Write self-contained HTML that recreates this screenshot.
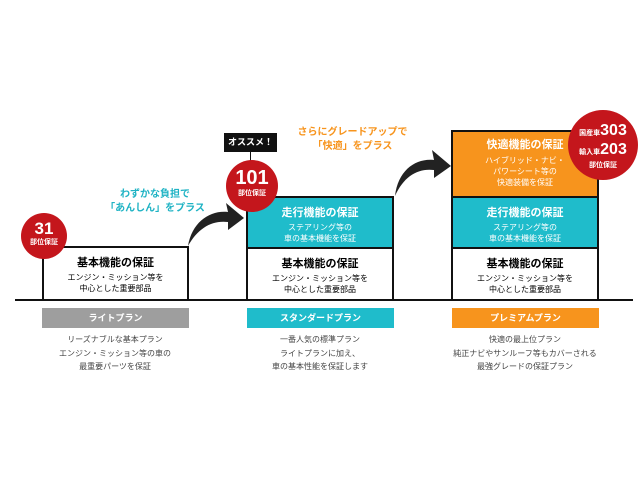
<!DOCTYPE html>
<html><head><meta charset="utf-8"><style>
body{margin:0;width:640px;height:480px;background:#fff;position:relative;overflow:hidden;font-family:"Liberation Sans","Noto Sans CJK JP",sans-serif}
.a{position:absolute;text-align:center;box-sizing:border-box}
.box{position:absolute;box-sizing:border-box;border:2px solid #111;text-align:center}
.t{font-weight:bold;font-size:11px;line-height:14px}
.s{font-size:8px;line-height:11px}
.circ{position:absolute;border-radius:50%;background:#c4161c;color:#fff;text-align:center;font-weight:bold}
.bar{position:absolute;height:20px;color:#fff;font-size:9px;font-weight:bold;line-height:20px;text-align:center}
.d{position:absolute;font-size:8px;line-height:13.5px;color:#444;text-align:center}
</style></head><body>
<div style="position:absolute;left:15px;top:299px;width:618px;height:2px;background:#111"></div>
<!-- light -->
<div class="box" style="left:42px;top:246px;width:147px;height:55px;background:#fff"><div class="t" style="margin-top:8px">基本機能の保証</div><div class="s" style="margin-top:2px">エンジン・ミッション等を<br>中心とした重要部品</div></div>
<!-- standard -->
<div class="box" style="left:246px;top:196px;width:148px;height:53px;background:#1fbccb;color:#fff"><div class="t" style="margin-top:8px">走行機能の保証</div><div class="s" style="margin-top:2px">ステアリング等の<br>車の基本機能を保証</div></div>
<div class="box" style="left:246px;top:247px;width:148px;height:54px;background:#fff"><div class="t" style="margin-top:8px">基本機能の保証</div><div class="s" style="margin-top:2px">エンジン・ミッション等を<br>中心とした重要部品</div></div>
<!-- premium -->
<div class="box" style="left:451px;top:130px;width:148px;height:68px;background:#f7941d;color:#fff"><div class="t" style="margin-top:6px">快適機能の保証</div><div class="s" style="margin-top:3px">ハイブリッド・ナビ・<br>パワーシート等の<br>快適装備を保証</div></div>
<div class="box" style="left:451px;top:196px;width:148px;height:53px;background:#1fbccb;color:#fff"><div class="t" style="margin-top:8px">走行機能の保証</div><div class="s" style="margin-top:2px">ステアリング等の<br>車の基本機能を保証</div></div>
<div class="box" style="left:451px;top:247px;width:148px;height:54px;background:#fff"><div class="t" style="margin-top:8px">基本機能の保証</div><div class="s" style="margin-top:2px">エンジン・ミッション等を<br>中心とした重要部品</div></div>
<!-- circles -->
<div class="circ" style="left:21px;top:213px;width:46px;height:46px"><div style="font-size:17px;line-height:17px;margin-top:7px">31</div><div style="font-size:7px">部位保証</div></div>
<div style="position:absolute;left:250px;top:150px;width:1px;height:12px;background:#111"></div>
<div class="a" style="left:224px;top:133px;width:53px;height:19px;background:#111;color:#fff;font-size:9px;font-weight:bold;line-height:19px">オススメ！</div>
<div class="circ" style="left:226px;top:160px;width:52px;height:52px"><div style="font-size:20px;line-height:20px;margin-top:8px">101</div><div style="font-size:7px">部位保証</div></div>
<div class="circ" style="left:568px;top:110px;width:70px;height:70px"><div style="font-size:16px;line-height:16px;margin-top:13px"><span style="font-size:7px">国産車</span>303</div><div style="font-size:16px;line-height:16px"><span style="font-size:7px">輸入車</span>203</div><div style="font-size:7px;line-height:10px">部位保証</div></div>
<!-- captions -->
<div class="a" style="left:95px;top:188px;width:120px;color:#1fb3c4;font-size:10px;font-weight:bold;line-height:14px">わずかな負担で<br>「あんしん」をプラス</div>
<div class="a" style="left:290px;top:126px;width:125px;color:#f7941d;font-size:10px;font-weight:bold;line-height:14px">さらにグレードアップで<br>「快適」をプラス</div>
<!-- arrows -->
<svg style="position:absolute;left:0;top:0" width="640" height="480">
<path d="M188 246 C192 222 210 210 228 212 L226 203 L244 218 L228 230 L228 222 C212 220 198 228 188 246Z" fill="#222"/>
<path d="M395 196 C398 170 416 158 434 160 L432 150 L451 166 L434 178 L434 170 C418 168 404 176 395 196Z" fill="#222"/>
</svg>
<!-- bars -->
<div class="bar" style="left:42px;top:308px;width:147px;background:#9e9e9e">ライトプラン</div>
<div class="bar" style="left:247px;top:308px;width:147px;background:#1fbccb">スタンダードプラン</div>
<div class="bar" style="left:452px;top:308px;width:147px;background:#f7941d">プレミアムプラン</div>
<div class="d" style="left:30px;top:333px;width:170px">リーズナブルな基本プラン<br>エンジン・ミッション等の車の<br>最重要パーツを保証</div>
<div class="d" style="left:235px;top:333px;width:170px">一番人気の標準プラン<br>ライトプランに加え、<br>車の基本性能を保証します</div>
<div class="d" style="left:425px;top:333px;width:200px">快適の最上位プラン<br>純正ナビやサンルーフ等もカバーされる<br>最強グレードの保証プラン</div>
</body></html>
